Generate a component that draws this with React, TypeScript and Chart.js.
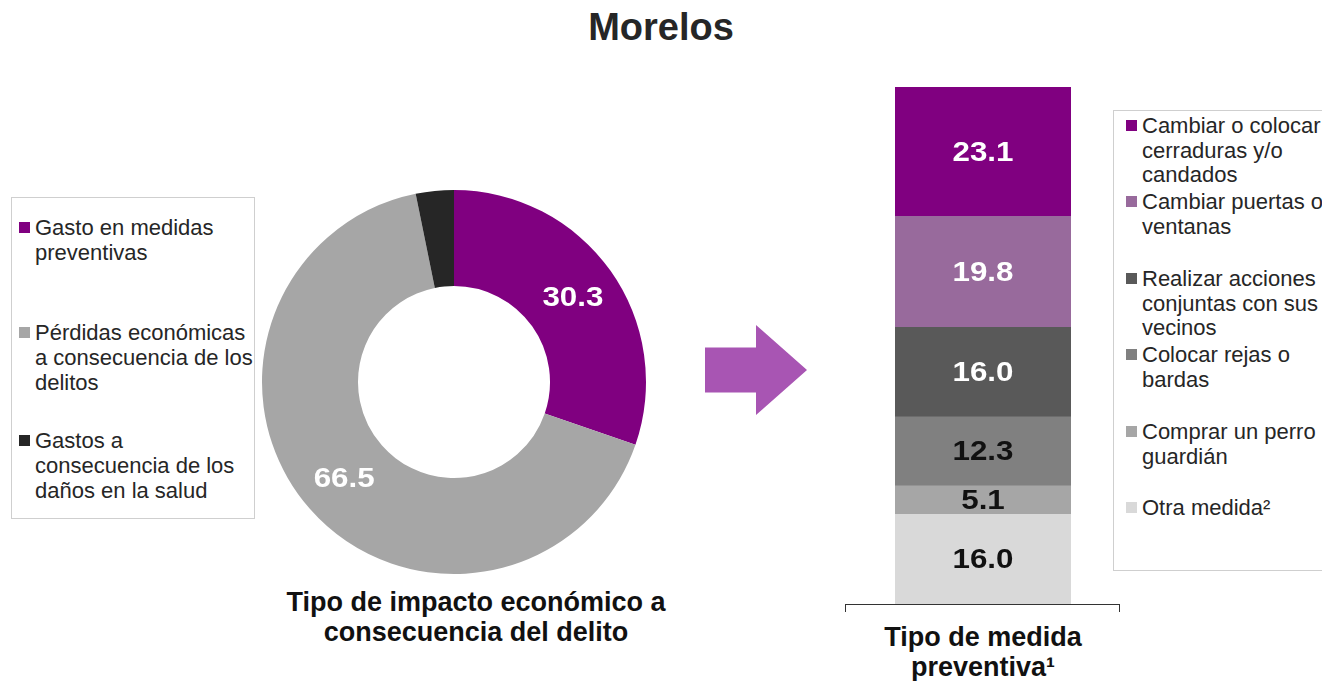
import React, { useEffect, useRef } from "react";
import { Chart, registerables } from "chart.js";

Chart.register(...registerables);

// ---------- data ----------
const title = "Morelos";
const donutCategories: string[][] = [
  ["Gasto en medidas", "preventivas"],
  ["Pérdidas económicas", "a consecuencia de los", "delitos"],
  ["Gastos a", "consecuencia de los", "daños en la salud"],
];
const donutValues = [30.3, 66.5, 3.2];
const donutCaption = ["Tipo de impacto económico a", "consecuencia del delito"];

const barCategories: string[][] = [
  ["Cambiar o colocar", "cerraduras y/o", "candados"],
  ["Cambiar puertas o", "ventanas"],
  ["Realizar acciones", "conjuntas con sus", "vecinos"],
  ["Colocar rejas o", "bardas"],
  ["Comprar un perro", "guardián"],
  ["Otra medida²"],
];
const barValues = [23.1, 19.8, 16.0, 12.3, 5.1, 16.0];
const barCaption = ["Tipo de medida", "preventiva¹"];

// ---------- styles ----------
const FONT = "'Liberation Sans', Arial, sans-serif";
const TEXT = "#262626";
const donutColors = ["#800080", "#A6A6A6", "#262626"];
const donutLabelColors = ["#ffffff", "#ffffff", "#111111"];
const barColors = ["#800080", "#986A9C", "#595959", "#808080", "#A6A6A6", "#D9D9D9"];
const barLabelColors = ["#ffffff", "#ffffff", "#ffffff", "#111111", "#111111", "#111111"];
const leftLegendTops = [17, 122, 230];
const rightLegendTops = [3, 79, 156, 232, 309, 385];

function drawLabel(ctx: CanvasRenderingContext2D, text: string, x: number, y: number, color: string) {
  ctx.save();
  ctx.translate(x, y);
  ctx.scale(1.1, 1);
  ctx.font = `bold 28.5px ${FONT}`;
  ctx.fillStyle = color;
  ctx.textAlign = "center";
  ctx.textBaseline = "middle";
  ctx.fillText(text, 0, 0);
  ctx.restore();
}

const donutLabelPlugin = {
  id: "donutLabels",
  afterDatasetsDraw(chart: any) {
    const ctx = chart.ctx;
    const meta = chart.getDatasetMeta(0);
    meta.data.forEach((arc: any, i: number) => {
      const p = arc.getProps(["x", "y", "startAngle", "endAngle", "innerRadius", "outerRadius"], true);
      const mid = (p.startAngle + p.endAngle) / 2;
      const outside = donutValues[i] < 5;
      const r = outside ? p.outerRadius + 23 : (p.innerRadius + p.outerRadius) / 2 + 2;
      const x = p.x + Math.cos(mid) * r + (outside ? 6 : 0);
      const y = p.y + Math.sin(mid) * r + 1;
      drawLabel(ctx, donutValues[i].toFixed(1), x, y, donutLabelColors[i]);
    });
  },
};

const barLabelPlugin = {
  id: "barLabels",
  afterDatasetsDraw(chart: any) {
    const ctx = chart.ctx;
    chart.data.datasets.forEach((ds: any, di: number) => {
      const meta = chart.getDatasetMeta(di);
      const idx = ds.srcIndex;
      meta.data.forEach((bar: any) => {
        const p = bar.getProps(["x", "y", "base"], true);
        drawLabel(ctx, barValues[idx].toFixed(1), p.x, (p.y + p.base) / 2 + 1, barLabelColors[idx]);
      });
    });
  },
};

function DonutChart() {
  const ref = useRef<HTMLCanvasElement>(null);
  useEffect(() => {
    const chart = new Chart(ref.current!, {
      type: "doughnut",
      data: {
        labels: donutCategories.map((l) => l.join(" ")),
        datasets: [
          {
            data: donutValues,
            backgroundColor: donutColors,
            borderWidth: 0,
          },
        ],
      },
      options: {
        responsive: false,
        animation: false,
        cutout: "50%",
        layout: { padding: 8 },
        plugins: { legend: { display: false }, tooltip: { enabled: false } },
      },
      plugins: [donutLabelPlugin],
    });
    return () => chart.destroy();
  }, []);
  return (
    <canvas
      ref={ref}
      width={400}
      height={400}
      style={{ position: "absolute", left: 254, top: 182, width: 400, height: 400 }}
    />
  );
}

function BarChart() {
  const ref = useRef<HTMLCanvasElement>(null);
  useEffect(() => {
    const total = barValues.reduce((a, b) => a + b, 0);
    const order = barValues.map((_, i) => i).reverse();
    const chart = new Chart(ref.current!, {
      type: "bar",
      data: {
        labels: [""],
        datasets: order.map((i) => ({
          label: barCategories[i].join(" "),
          data: [barValues[i]],
          backgroundColor: barColors[i],
          borderWidth: 0,
          barPercentage: 1,
          categoryPercentage: 1,
          srcIndex: i,
        })) as any,
      },
      options: {
        responsive: false,
        animation: false,
        layout: { padding: 0 },
        scales: {
          x: { stacked: true, display: false },
          y: { stacked: true, display: false, min: 0, max: total },
        },
        plugins: { legend: { display: false }, tooltip: { enabled: false } },
      },
      plugins: [barLabelPlugin],
    });
    return () => chart.destroy();
  }, []);
  return (
    <canvas
      ref={ref}
      width={176}
      height={517}
      style={{ position: "absolute", left: 895, top: 87, width: 176, height: 517 }}
    />
  );
}

function Legend({
  items,
  colors,
  tops,
  box,
  lineHeight,
  inset,
}: {
  items: string[][];
  colors: string[];
  tops: number[];
  box: { left: number; top: number; width: number; height: number };
  lineHeight: number;
  inset: number;
}) {
  return (
    <div
      style={{
        position: "absolute",
        left: box.left,
        top: box.top,
        width: box.width,
        height: box.height,
        border: "1.5px solid #cfcfcf",
        boxSizing: "border-box",
      }}
    >
      {items.map((lines, i) => (
        <div key={i} style={{ position: "absolute", left: inset, top: tops[i] }}>
          <div
            style={{
              position: "absolute",
              left: 0,
              top: lineHeight / 2 - 6,
              width: 11,
              height: 11,
              background: colors[i],
            }}
          />
          <div style={{ position: "absolute", left: 16, top: 0 }}>
            {lines.map((t, j) => (
              <div
                key={j}
                style={{
                  whiteSpace: "nowrap",
                  fontSize: 22,
                  lineHeight: `${lineHeight}px`,
                  color: TEXT,
                }}
              >
                {t}
              </div>
            ))}
          </div>
        </div>
      ))}
    </div>
  );
}

function Caption({ lines, center, top }: { lines: string[]; center: number; top: number }) {
  return (
    <div
      style={{
        position: "absolute",
        left: center - 250,
        width: 500,
        top,
        textAlign: "center",
        fontWeight: "bold",
        fontSize: 27,
        lineHeight: "30px",
        color: "#111",
      }}
    >
      {lines.map((l, i) => (
        <div key={i}>{l}</div>
      ))}
    </div>
  );
}

export default function App() {
  useEffect(() => {
    document.body.style.margin = "0";
  }, []);
  return (
    <div
      style={{
        position: "absolute",
        left: 0,
        top: 0,
        width: 1322,
        height: 681,
        overflow: "hidden",
        background: "#fff",
        fontFamily: FONT,
      }}
    >
      <div
        style={{
          position: "absolute",
          left: 0,
          width: 1322,
          top: 5,
          textAlign: "center",
          fontWeight: "bold",
          fontSize: 38,
          lineHeight: "44px",
          color: TEXT,
        }}
      >
        {title}
      </div>

      <Legend
        items={donutCategories}
        colors={donutColors}
        tops={leftLegendTops}
        box={{ left: 11, top: 197, width: 244, height: 322 }}
        lineHeight={25}
        inset={7}
      />
      <DonutChart />
      <Caption lines={donutCaption} center={476} top={587} />

      <div
        style={{
          position: "absolute",
          left: 705,
          top: 325,
          width: 102,
          height: 90,
          background: "#A855B3",
          clipPath: "polygon(0% 25%, 50% 25%, 50% 0%, 100% 50%, 50% 100%, 50% 75%, 0% 75%)",
        }}
      />

      <BarChart />
      <div
        style={{
          position: "absolute",
          left: 845,
          top: 604,
          width: 275,
          height: 8,
          borderTop: "1.5px solid #333",
          borderLeft: "1.5px solid #333",
          borderRight: "1.5px solid #333",
          boxSizing: "border-box",
        }}
      />
      <Caption lines={barCaption} center={983} top={622} />

      <Legend
        items={barCategories}
        colors={barColors}
        tops={rightLegendTops}
        box={{ left: 1113, top: 110, width: 260, height: 461 }}
        lineHeight={24.5}
        inset={12}
      />
    </div>
  );
}
